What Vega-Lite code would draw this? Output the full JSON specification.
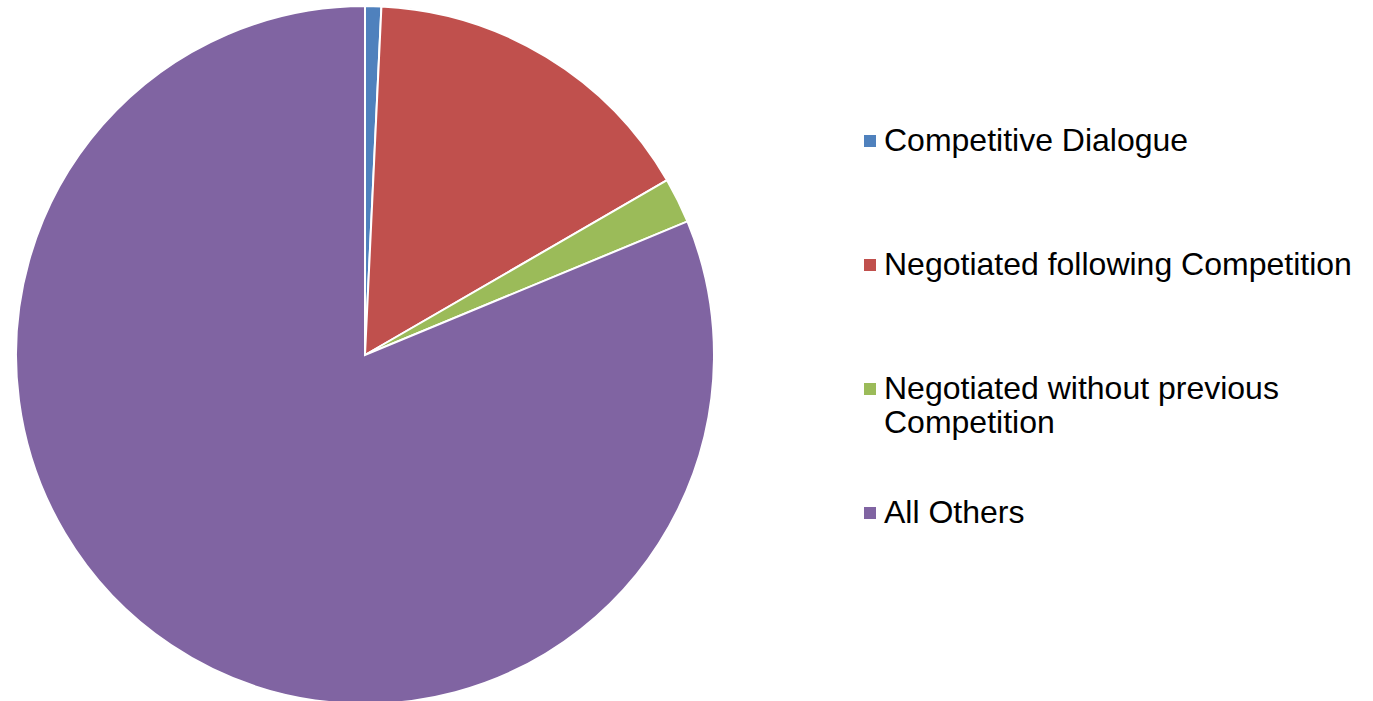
{
  "$schema": "https://vega.github.io/schema/vega-lite/v6.json",
  "width": 730,
  "height": 710,
  "padding": 0,
  "autosize": {"type": "pad"},
  "background": "white",
  "view": {"stroke": null},
  "data": {
    "values": [
      {"category": "Competitive Dialogue", "share": 0.75, "order": 1},
      {"category": "Negotiated following Competition", "share": 15.9, "order": 2},
      {"category": "Negotiated without previous Competition", "share": 2.1, "order": 3},
      {"category": "All Others", "share": 81.25, "order": 4}
    ]
  },
  "transform": [
    {"stack": "share", "groupby": [], "sort": [{"field": "order", "order": "ascending"}], "as": ["s0", "s1"]}
  ],
  "config": {
    "legend": {
      "title": null,
      "orient": "none",
      "symbolType": "square",
      "symbolSize": 144,
      "symbolStrokeWidth": 0,
      "labelFont": "Liberation Sans",
      "labelFontSize": 32,
      "labelColor": "black",
      "labelOffset": -2,
      "labelLimit": 700,
      "rowPadding": 92
    }
  },
  "layer": [
    {
      "transform": [{"filter": "datum.order < 4"}],
      "mark": {"type": "arc", "outerRadius": 349, "stroke": "white", "strokeWidth": 2},
      "encoding": {
        "theta": {"field": "s0", "type": "quantitative", "scale": {"domain": [0, 100]}},
        "theta2": {"field": "s1"},
        "color": {
          "field": "category",
          "type": "nominal",
          "scale": {
            "domain": ["Competitive Dialogue", "Negotiated following Competition", "Negotiated without previous Competition"],
            "range": ["#4F81BD", "#C0504D", "#9BBB59"]
          },
          "legend": {
            "legendX": 854,
            "legendY": 125,
            "labelExpr": "datum.label == 'Negotiated without previous Competition' ? ['Negotiated without previous', 'Competition'] : datum.label",
            "encoding": {"labels": {"enter": {"lineHeight": {"value": 37}}, "update": {"lineHeight": {"value": 37}}}}
          }
        }
      }
    },
    {
      "transform": [{"filter": "datum.order == 4"}],
      "mark": {"type": "arc", "outerRadius": 349, "stroke": "white", "strokeWidth": 2},
      "encoding": {
        "theta": {"field": "s0", "type": "quantitative", "scale": {"domain": [0, 100]}},
        "theta2": {"field": "s1"},
        "color": {
          "field": "category",
          "type": "nominal",
          "scale": {"domain": ["All Others"], "range": ["#8064A2"]},
          "legend": {"legendX": 854, "legendY": 497}
        }
      }
    }
  ],
  "resolve": {"scale": {"color": "independent"}}
}
